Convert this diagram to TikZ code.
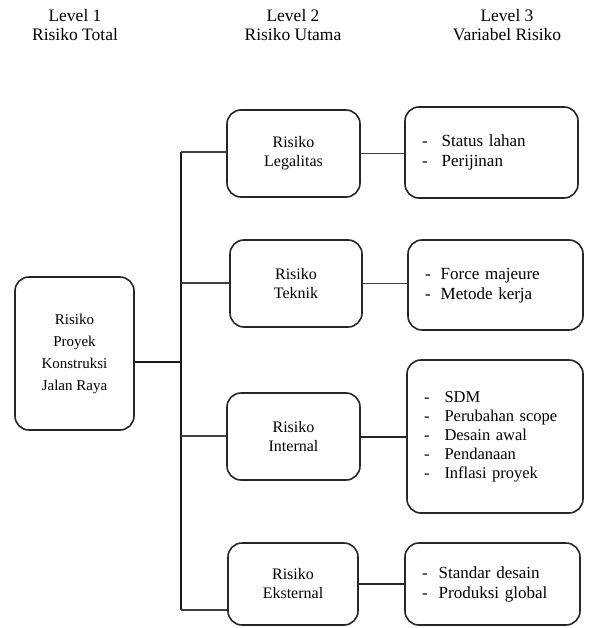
\documentclass[tikz,border=0pt]{standalone}
\usepackage{fontspec}
\setmainfont{Liberation Serif}
\begin{document}
\begin{tikzpicture}[x=1pt,y=-1pt,
  txt/.style={font=\fontsize{16}{19}\selectfont},
  listtxt/.style={font=\fontsize{17}{20}\selectfont},
  lvlbox/.style={draw=black!85,line width=1.6pt,rounded corners=14pt,align=center,txt,inner sep=0pt},
  listbox/.style={draw=black!85,line width=1.6pt,rounded corners=14pt,align=left,listtxt,inner xsep=17pt,inner ysep=0pt},
  trunkline/.style={line width=2.6pt,black!90},
  branchline/.style={line width=1.2pt,black!75},
  thickbranch/.style={line width=2pt,black!85},
  head/.style={align=center,font=\fontsize{17.5}{18.5}\selectfont,inner sep=0pt}]
\useasboundingbox (0,0) rectangle (589,628);

% headers
\node[head] (h1) at (75,25) {Level 1\\Risiko Total};
\node[head] (h2) at (293,25) {Level 2\\Risiko Utama};
\node[head] (h3) at (507,25) {Level 3\\Variabel Risiko};

% level 1
\node[lvlbox,minimum width=119pt,minimum height=153pt,font=\fontsize{15}{22}\selectfont] (l1) at (74.5,353.5) {Risiko\\Proyek\\Konstruksi\\Jalan Raya};

% level 2
\node[lvlbox,minimum width=133pt,minimum height=87pt] (leg) at (293.5,153.5) {Risiko\\Legalitas};
\node[lvlbox,minimum width=132pt,minimum height=87pt] (tek) at (296,283.5) {Risiko\\Teknik};
\node[lvlbox,minimum width=133pt,minimum height=87pt] (int) at (293.5,436.5) {Risiko\\Internal};
\node[lvlbox,minimum width=130pt,minimum height=82pt] (eks) at (293,584) {Risiko\\Eksternal};

% level 3
\node[listbox,text width=139pt,minimum height=91pt] (v1) at (491.5,152.5)
  {\begin{tabular}{@{}l@{\hspace{14pt}}l@{}} - & Status lahan\\ - & Perijinan\end{tabular}};
\node[listbox,text width=141pt,minimum height=90pt] (v2) at (495.5,285)
  {\begin{tabular}{@{}l@{\hspace{10pt}}l@{}} - & Force majeure\\ - & Metode kerja\end{tabular}};
\node[listbox,text width=142pt,minimum height=153pt,font=\fontsize{16.5}{19}\selectfont] (v3) at (495,436.5)
  {\begin{tabular}{@{}l@{\hspace{15pt}}l@{}} - & SDM\\ - & Perubahan scope\\ - & Desain awal\\ - & Pendanaan\\ - & Inflasi proyek\end{tabular}};
\node[listbox,text width=141pt,minimum height=82pt] (v4) at (492.5,584)
  {\begin{tabular}{@{}l@{\hspace{11pt}}l@{}} - & Standar desain\\ - & Produksi global\end{tabular}};

% trunk
\coordinate (ttop) at (181,152);
\coordinate (tmid) at (181,362);
\coordinate (tint) at (181,436);
\coordinate (ttek) at (181,283);
\coordinate (tbot) at (181,610);
\draw[trunkline] (ttop) -- (tbot);
\draw[trunkline] (l1.east |- tmid) -- (tmid);

% branches
\draw[branchline] (ttop) -- (ttop -| leg.west);
\draw[branchline] (ttek) -- (ttek -| tek.west);
\draw[branchline] (tint) -- (tint -| int.west);
\draw[branchline] (tbot) -- (tbot -| eks.west);

% level 2 to level 3
\draw[branchline] (leg.east) -- (leg.east -| v1.west);
\draw[branchline] (tek.east) -- (tek.east -| v2.west);
\draw[thickbranch] (int.east) -- (int.east -| v3.west);
\draw[thickbranch] (eks.east) -- (eks.east -| v4.west);
\end{tikzpicture}
\end{document}
